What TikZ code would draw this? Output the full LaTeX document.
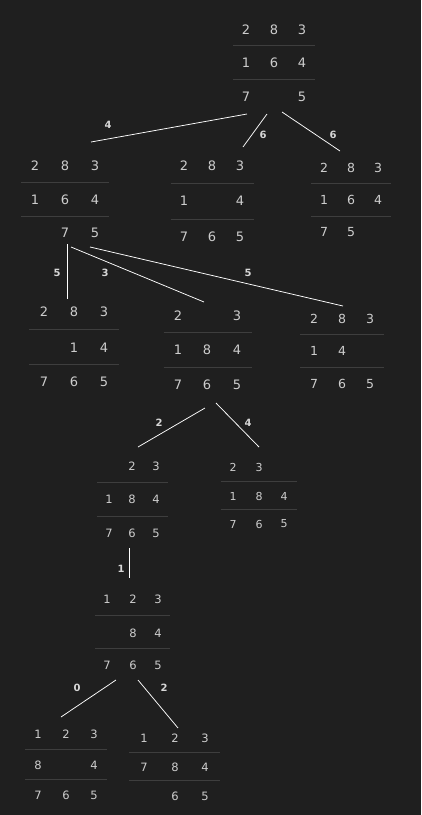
\documentclass[tikz,border=0pt]{standalone}
\usepackage{fontspec}
\setmainfont{DejaVu Sans}
\definecolor{bg}{RGB}{31,31,31}
\definecolor{digitc}{RGB}{205,205,205}
\definecolor{sepc}{RGB}{62,62,62}
\definecolor{labc}{RGB}{215,215,215}
\tikzset{
  digit/.style={text=digitc, inner sep=0pt, anchor=center},
  sepline/.style={draw=sepc, line width=0.9pt},
  edge/.style={draw=white, line width=0.75pt},
  elabel/.style={text=labc, inner sep=0pt, font=\bfseries\fontsize{10}{10}\selectfont}
}
\newcommand\setgrid[9]{\def\gxa{#1}\def\gxb{#2}\def\gxc{#3}\def\gya{#4}\def\gyb{#5}\def\gyc{#6}\def\gla{#7}\def\glb{#8}\def\gm{#9}}
\newcommand\cellnode[4]{\if\relax\detokenize{#4}\relax\else\node[digit] (#1) at (#2,#3) {#4};\fi}
\newcommand\brow[5]{%
  \cellnode{#1a}{\gxa}{#2}{#3}\cellnode{#1b}{\gxb}{#2}{#4}\cellnode{#1c}{\gxc}{#2}{#5}}
\newcommand\bseps[1]{%
  \draw[sepline] (\gxa-\gm,\gla) coordinate (#1-s1l) -- (\gxc+\gm,\gla) coordinate (#1-s1r);
  \draw[sepline] (\gxa-\gm,\glb) coordinate (#1-s2l) -- (\gxc+\gm,\glb) coordinate (#1-s2r);}
\begin{document}
\begin{tikzpicture}[x=1pt,y=-1pt]
\fill[bg] (0,0) rectangle (421,815);
\useasboundingbox (0,0) rectangle (421,815);

% root
\begin{scope}[font=\fontsize{13}{13}\selectfont]
\setgrid{246}{274}{302}{30}{63}{97}{45}{79}{13}
\brow{r1}{\gya}{2}{8}{3}\brow{r2}{\gyb}{1}{6}{4}\brow{r3}{\gyc}{7}{}{5}\bseps{r}
% L1
\setgrid{35}{65}{95}{166}{200}{233}{182}{216}{14}
\brow{la}{\gya}{2}{8}{3}\brow{lb}{\gyb}{1}{6}{4}\brow{lc}{\gyc}{}{7}{5}\bseps{l}
% M1
\setgrid{184}{212}{240}{166}{201}{237}{183}{219}{13.5}
\brow{ma}{\gya}{2}{8}{3}\brow{mb}{\gyb}{1}{}{4}\brow{mc}{\gyc}{7}{6}{5}\bseps{m}
% A2
\setgrid{44}{74}{104}{312}{348}{382}{329}{364}{15}
\brow{aa}{\gya}{2}{8}{3}\brow{ab}{\gyb}{}{1}{4}\brow{ac}{\gyc}{7}{6}{5}\bseps{a}
% B2
\setgrid{178}{207}{237}{316}{350}{385}{332}{367}{14.5}
\brow{ba}{\gya}{2}{}{3}\brow{bb}{\gyb}{1}{8}{4}\brow{bc}{\gyc}{7}{6}{5}\bseps{b}
\end{scope}

\begin{scope}[font=\fontsize{12.5}{12.5}\selectfont]
% R1
\setgrid{324}{351}{378}{168}{200}{232}{183}{216}{13}
\brow{ra}{\gya}{2}{8}{3}\brow{rb}{\gyb}{1}{6}{4}\brow{rc}{\gyc}{7}{5}{}\bseps{rr}
% C2
\setgrid{314}{342}{370}{319}{351}{384}{334}{367}{14}
\brow{ca}{\gya}{2}{8}{3}\brow{cb}{\gyb}{1}{4}{}\brow{cc}{\gyc}{7}{6}{5}\bseps{c}
\end{scope}

\begin{scope}[font=\fontsize{11.5}{11.5}\selectfont]
% D3
\setgrid{109}{132}{156}{466}{499}{533}{482}{516}{12}
\brow{da}{\gya}{}{2}{3}\brow{db}{\gyb}{1}{8}{4}\brow{dc}{\gyc}{7}{6}{5}\bseps{d}
% F4
\setgrid{107}{133}{158}{599}{633}{665}{615}{648}{12}
\brow{fa}{\gya}{1}{2}{3}\brow{fb}{\gyb}{}{8}{4}\brow{fc}{\gyc}{7}{6}{5}\bseps{f}
% G5
\setgrid{38}{66}{94}{734}{765}{795}{749}{779}{13}
\brow{ga}{\gya}{1}{2}{3}\brow{gb}{\gyb}{8}{}{4}\brow{gc}{\gyc}{7}{6}{5}\bseps{g}
% H5
\setgrid{144}{175}{205}{738}{767}{796}{752}{780}{15}
\brow{ha}{\gya}{1}{2}{3}\brow{hb}{\gyb}{7}{8}{4}\brow{hc}{\gyc}{}{6}{5}\bseps{h}
\end{scope}

\begin{scope}[font=\fontsize{11}{11}\selectfont]
% E3
\setgrid{233}{259}{284}{467}{496}{524}{481}{509}{12.5}
\brow{ea}{\gya}{2}{3}{}\brow{eb}{\gyb}{1}{8}{4}\brow{ec}{\gyc}{7}{6}{5}\bseps{e}
\end{scope}

% connector endpoints
\coordinate (rL) at (247,114); \coordinate (L1t) at (91,142);
\coordinate (rM) at (267,114); \coordinate (M1t) at (243,147);
\coordinate (rR) at (282,112); \coordinate (R1t) at (340,151);
\coordinate (lA) at (67,244);  \coordinate (A2t) at (67,299);
\coordinate (lB) at (71,247);  \coordinate (B2t) at (204,302);
\coordinate (lC) at (90,247);  \coordinate (C2t) at (343,306);
\coordinate (bD) at (205,408); \coordinate (D3t) at (138,447);
\coordinate (bE) at (216,403); \coordinate (E3t) at (259,447);
\coordinate (dF) at (129,548); \coordinate (F4t) at (129,578);
\coordinate (fG) at (116,680); \coordinate (G5t) at (61,717);
\coordinate (fH) at (138,680); \coordinate (H5t) at (178,728);

\draw[edge] (rL) -- (L1t);
\draw[edge] (rM) -- (M1t);
\draw[edge] (rR) -- (R1t);
\draw[edge] (lA) -- (A2t);
\draw[edge] (lB) -- (B2t);
\draw[edge] (lC) -- (C2t);
\draw[edge] (bD) -- (D3t);
\draw[edge] (bE) -- (E3t);
\draw[edge] (dF) -- (F4t);
\draw[edge] (fG) -- (G5t);
\draw[edge] (fH) -- (H5t);

% edge labels
\node[elabel] (e1) at (108,125) {4};
\node[elabel] (e2) at (263,135) {6};
\node[elabel] (e3) at (333,135) {6};
\node[elabel] (e4) at (57,273) {5};
\node[elabel] (e5) at (105,273) {3};
\node[elabel] (e6) at (248,273) {5};
\node[elabel] (e7) at (159,423) {2};
\node[elabel] (e8) at (248,423) {4};
\node[elabel] (e9) at (121,569) {1};
\node[elabel] (e10) at (77,688) {0};
\node[elabel] (e11) at (164,688) {2};
\end{tikzpicture}
\end{document}
